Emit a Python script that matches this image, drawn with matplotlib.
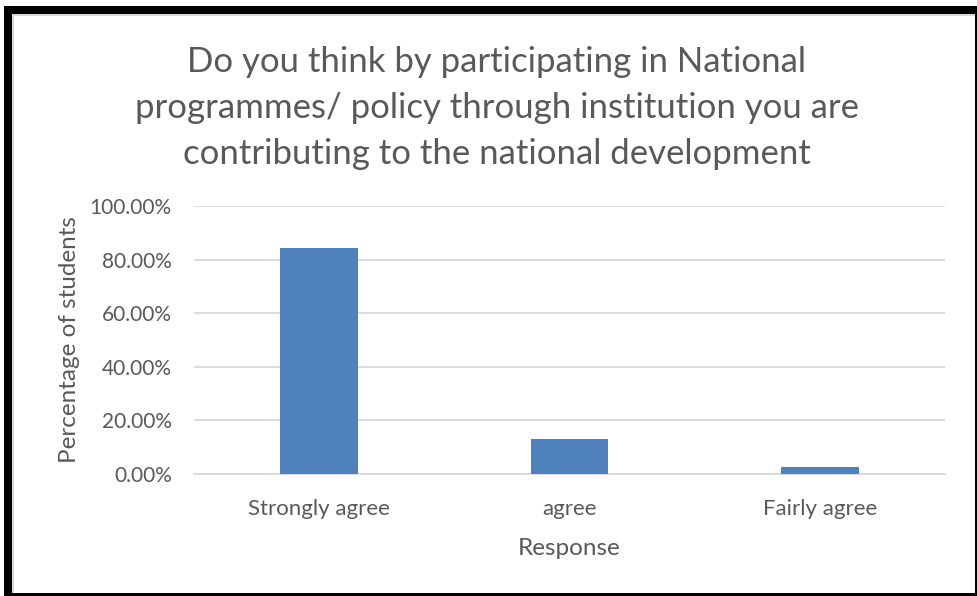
import matplotlib
matplotlib.use("Agg")
import matplotlib.pyplot as plt
from matplotlib.patches import Rectangle
from matplotlib.ticker import FuncFormatter

categories = ["Strongly agree", "agree", "Fairly agree"]
values = [0.842, 0.132, 0.026]
yticks = [0.0, 0.2, 0.4, 0.6, 0.8, 1.0]
title = ("Do you think by participating in National\n"
         "programmes/ policy through institution you are\n"
         "contributing to the national development")

plt.rcParams['font.family'] = ['Lato', 'DejaVu Sans']
gray = '#595959'

fig = plt.figure(figsize=(9.77, 5.96), dpi=100)
W, H = 977, 596
ax = fig.add_axes([194 / W, 1 - 474 / H, (945 - 194) / W, (474 - 206) / H])

x = range(len(categories))
ax.bar(x, values, width=0.31, color='#4F81BD', zorder=3)
ax.set_xlim(-0.5, len(categories) - 0.5)
ax.set_ylim(0, 1.0)
ax.set_yticks(yticks)
ax.yaxis.set_major_formatter(FuncFormatter(lambda v, p: f"{v*100:.2f}%"))
ax.set_xticks(list(x))
ax.set_xticklabels(categories)
ax.grid(axis='y', color='#D9D9D9', linewidth=1.3, zorder=0)
for s in ['top', 'right', 'left']:
    ax.spines[s].set_visible(False)
ax.spines['bottom'].set_color('#D9D9D9')
ax.spines['bottom'].set_linewidth(1.3)
ax.tick_params(axis='both', length=0, colors=gray)
ax.tick_params(axis='y', pad=16, labelsize=15)
ax.tick_params(axis='x', pad=18, labelsize=16)
ax.set_xlabel("Response", color=gray, fontsize=17.5, labelpad=14)
ax.set_ylabel("Percentage of students", color=gray, fontsize=17.5, labelpad=7)

fig.text(497 / W, 1 - 108 / H, title, ha='center', va='center', color=gray,
         fontsize=25, linespacing=1.55)

# outer frame (thick black left/top, thin right/bottom)
def frame(x0, y0, x1, y1, color):
    fig.patches.append(Rectangle((x0 / W, 1 - y1 / H), (x1 - x0) / W, (y1 - y0) / H,
                                 transform=fig.transFigure, facecolor=color,
                                 edgecolor='none', zorder=10))

frame(4, 6, 12, 596, 'black')
frame(4, 6, 977, 14, 'black')
frame(975, 6, 977, 596, 'black')
frame(4, 593, 977, 596, 'black')
frame(12, 14, 14, 593, '#D9D9D9')
frame(12, 14, 975, 16, '#D9D9D9')

fig.savefig("out.png", dpi=100)
